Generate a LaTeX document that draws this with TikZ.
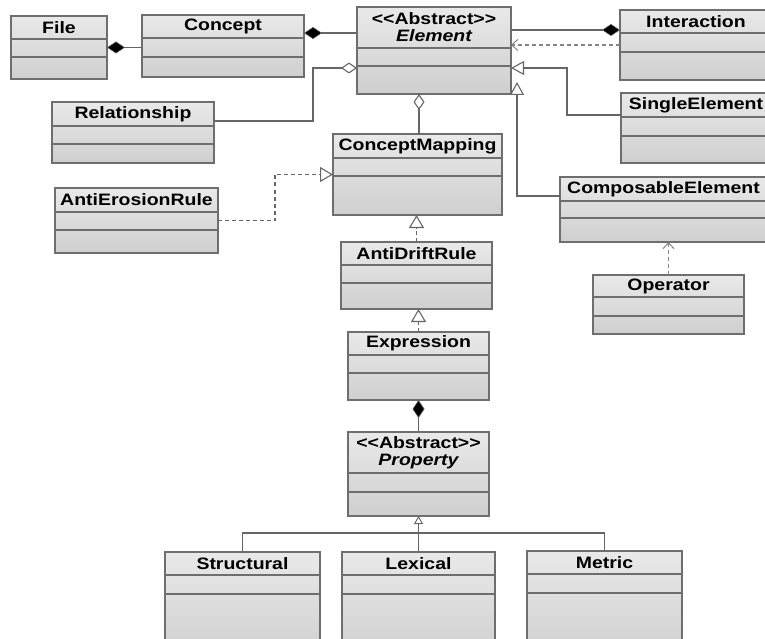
\documentclass[tikz,border=0pt]{standalone}
\usepackage{fontspec}
\setmainfont{Liberation Sans}[FakeStretch=1.18]
\usetikzlibrary{arrows.meta,calc}
\definecolor{edge}{HTML}{6E6E6E}
\definecolor{ftop}{HTML}{E9E9E9}
\definecolor{fbot}{HTML}{CFCFCF}
\definecolor{wire}{HTML}{666666}
\newcommand\stereo{<\kern0pt<Abstract>\kern0pt>}
\tikzset{
  cls/.style={draw=edge, line width=1.6pt, top color=ftop, bottom color=fbot, anchor=north west, inner sep=0pt, outer sep=0pt},
  ttl/.style={font=\fontsize{16.5}{17}\selectfont\bfseries, inner sep=0pt, align=center, text=black},
  div/.style={draw=edge, line width=1.6pt},
  conn/.style={draw=wire, line width=1.4pt},
  comp/.style={conn, arrows={Diamond[fill=black, length=18pt, width=12pt, line width=0.6pt]-}},
  aggr/.style={conn, arrows={Diamond[open, fill=white, length=16pt, width=11pt, line width=1.1pt]-}},
  gen/.style={conn, arrows={-Triangle[open, fill=white, length=13pt, width=14pt, line width=1.1pt]}},
  gensmall/.style={conn, line width=1.1pt, arrows={-Triangle[open, fill=white, length=8pt, width=9pt, line width=0.9pt]}},
  real/.style={conn, dash pattern=on 4pt off 3pt, arrows={-Triangle[open, fill=white, length=13pt, width=15pt, line width=1.1pt]}},
  dep/.style={conn, draw=wire!80, dash pattern=on 4pt off 3pt, arrows={-Straight Barb[length=6pt, width=11pt, line width=1pt]}},
  plain/.style={conn, line width=1.2pt}
}
\newcommand\umlcls[8]{%
  \node[cls, minimum width={(#4-#2)*1pt}, minimum height={(#5-#3)*1pt}] (#1) at (#2,#3) {};
  \draw[div] (#2,#6) -- (#4,#6) (#2,#7) -- (#4,#7);
  \node[ttl] (#1-t) at ({(#2+#4)/2},{(#3+#6)/2}) {#8};
}
\begin{document}
\begin{tikzpicture}[x=1pt,y=-1pt]
\useasboundingbox (0,0) rectangle (765,639);
\clip (0,0) rectangle (765,639);
\fill[white] (0,0) rectangle (765,639);

% classes
\umlcls{file}{11}{16}{107}{79}{39}{57}{File}
\umlcls{concept}{142}{15}{304}{77}{38}{57}{Concept}
\umlcls{element}{357}{7}{511}{94}{48}{66}{\stereo\\\itshape Element}
\umlcls{interaction}{620}{10}{772}{80}{33}{52}{Interaction}
\umlcls{relationship}{52}{102}{214}{163}{126}{144}{Relationship}
\umlcls{single}{621}{93}{771}{163}{117}{136}{SingleElement}
\umlcls{cmap}{333}{134}{502}{215}{158}{176}{ConceptMapping}
\umlcls{antierosion}{55}{188}{218}{253}{212}{230}{AntiErosionRule}
\umlcls{composable}{560}{177}{767}{242}{201}{218}{ComposableElement}
\umlcls{antidrift}{341}{242}{492}{309}{265}{283}{AntiDriftRule}
\umlcls{operator}{593}{275}{744}{334}{297}{316}{Operator}
\umlcls{expression}{348}{332}{489}{400}{355}{373}{Expression}
\umlcls{property}{348}{432}{489}{516}{473}{492}{\stereo\\\itshape Property}
\umlcls{structural}{165}{552}{320}{660}{575}{594}{Structural}
\umlcls{lexical}{342}{552}{495}{660}{575}{594}{Lexical}
\umlcls{metric}{527}{551}{682}{660}{574}{593}{Metric}

% connectors
\draw[comp] (file.east) -- (file.east -| concept.west);
\draw[comp] ([yshift=13pt]concept.east) -- ([yshift=13pt]concept.east -| element.west);
\draw[aggr] ([yshift=-17.5pt]element.west) -| (313,121) -- ([yshift=11.5pt]relationship.east);
\draw[comp] ([yshift=15pt]interaction.west) -- ([yshift=15pt]interaction.west -| element.east);
\draw[dep] (interaction.west) -- (interaction.west -| element.east);
\draw[gen] ([yshift=13pt]single.west) -| (567,68) -- ([yshift=-17.5pt]element.east);
\coordinate (compTip) at (517,82);
\draw[gen] ([yshift=13.5pt]composable.west) -| (compTip);
\draw[aggr] ([xshift=-15pt]element.south) -- ([xshift=-15pt]element.south |- cmap.north);
\draw[real] (antierosion.east) -| (275,174.5) -- (cmap.west);
\draw[real] (antidrift.north) -- (antidrift.north |- cmap.south);
\draw[real] (expression.north) -- (expression.north |- antidrift.south);
\draw[dep] (operator.north) -- (operator.north |- composable.south);
\draw[comp] (expression.south) -- (expression.south |- property.north);
\coordinate (treeJ) at (418.5,533);
\draw[plain] (structural.north) |- (treeJ) -| (metric.north);
\draw[gensmall] (lexical.north) -- (property.south);
\end{tikzpicture}
\end{document}
